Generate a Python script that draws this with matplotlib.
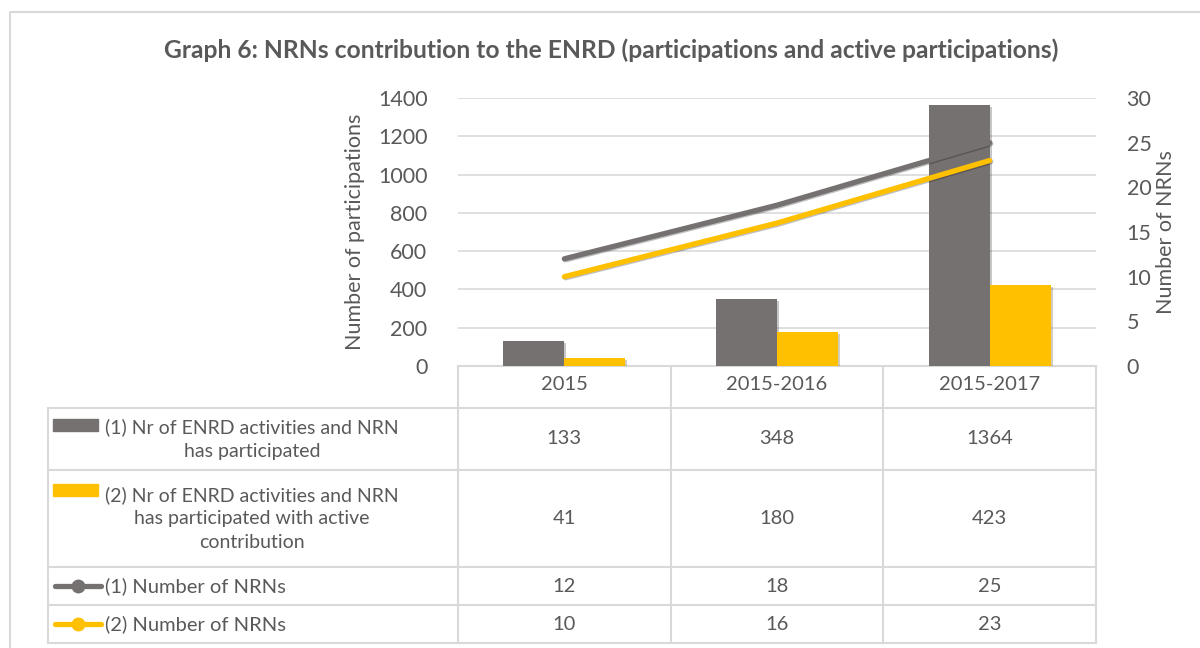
import numpy as np
import matplotlib
matplotlib.use("Agg")
import matplotlib.pyplot as plt
from matplotlib import patheffects as pe
from matplotlib.lines import Line2D
from matplotlib.patches import Rectangle

plt.rcParams["font.family"] = ["Lato", "DejaVu Sans"]

# data
categories = ["2015", "2015-2016", "2015-2017"]
participated = [133, 348, 1364]
active = [41, 180, 423]
nrns_1 = [12, 18, 25]
nrns_2 = [10, 16, 23]

row_labels = [
    "(1) Nr of ENRD activities and NRN\nhas participated",
    "(2) Nr of ENRD activities and NRN\nhas participated with active\ncontribution",
    "(1) Number of NRNs",
    "(2) Number of NRNs",
]
title = "Graph 6: NRNs contribution to the ENRD (participations and active participations)"

GRAY = "#767171"
YELLOW = "#FFC000"
TXT = "#595959"
GRID = "#D9D9D9"

W, H = 1200, 648
fig = plt.figure(figsize=(12, 6.48), dpi=100)

# pixel layout of the plot area
px_left, px_right, px_top, px_bot = 458, 1096, 98, 366
ax = fig.add_axes([px_left / W, 1 - px_bot / H, (px_right - px_left) / W, (px_bot - px_top) / H])
x = np.arange(len(categories))
bw = 0.287
shadow = [pe.SimplePatchShadow(offset=(1.5, -1.5), alpha=0.25), pe.Normal()]
ax.bar(x - bw / 2, participated, bw, color=GRAY, zorder=3, path_effects=shadow)
ax.bar(x + bw / 2, active, bw, color=YELLOW, zorder=3, path_effects=shadow)
ax.set_xlim(-0.5, 2.5)
ax.set_ylim(0, 1400)
ax.set_yticks(range(0, 1401, 200))
ax.yaxis.grid(True, color=GRID, lw=1.2)
ax.set_axisbelow(True)
for s in ["left", "right", "top"]:
    ax.spines[s].set_visible(False)
ax.spines["bottom"].set_color(GRID)
ax.spines["bottom"].set_linewidth(1.5)
ax.set_xticks(x)
ax.set_xticklabels(categories)
ax.tick_params(axis="x", length=0, pad=7, labelsize=14.5, labelcolor=TXT)
ax.tick_params(axis="y", length=0, pad=22, labelsize=15.5, labelcolor=TXT)
ax.set_ylabel("Number of participations", fontsize=15.5, color=TXT, labelpad=9)

ax2 = ax.twinx()
lshadow = [pe.SimpleLineShadow(offset=(0.8, -0.8), alpha=0.25), pe.Normal()]
ax2.plot(x, nrns_1, color=GRAY, lw=3.8, solid_capstyle="round", zorder=4, path_effects=lshadow)
ax2.plot(x, nrns_2, color=YELLOW, lw=3.8, solid_capstyle="round", zorder=4, path_effects=lshadow)
ax2.set_ylim(0, 30)
ax2.set_yticks(range(0, 31, 5))
for s in ax2.spines.values():
    s.set_visible(False)
ax2.tick_params(axis="y", length=0, pad=22, labelsize=15.5, labelcolor=TXT)
ax2.set_ylabel("Number of NRNs", fontsize=15.5, color=TXT, labelpad=3)

fig.suptitle(title, x=611 / W, y=1 - 50 / H, va="center", fontsize=17.7,
             fontweight="bold", color=TXT)

# overlay for data table and frame (pixel coords)
tab = fig.add_axes([0, 0, 1, 1], zorder=-1)
tab.set_xlim(0, W)
tab.set_ylim(H, 0)
tab.axis("off")

tab.plot([10, 10, W + 5], [H + 5, 12, 12], color=GRID, lw=1.5)

col_edges = [px_left + (px_right - px_left) * i / 3 for i in range(4)]
row_edges = [408, 470, 567, 605, 643]
lab_left = 48

for xe in col_edges:
    tab.plot([xe, xe], [px_bot, row_edges[-1]], color=GRID, lw=1.5)
tab.plot([lab_left, lab_left], [row_edges[0], row_edges[-1]], color=GRID, lw=1.5)
for ye in row_edges:
    tab.plot([lab_left, px_right], [ye, ye], color=GRID, lw=1.5)

values = [participated, active, nrns_1, nrns_2]
colors = [GRAY, YELLOW, GRAY, YELLOW]
for r in range(4):
    yc = (row_edges[r] + row_edges[r + 1]) / 2
    for c in range(3):
        xc = (col_edges[c] + col_edges[c + 1]) / 2
        tab.text(xc, yc, str(values[r][c]), ha="center", va="center",
                 fontsize=14.5, color=TXT)
    if r < 2:
        nlines = row_labels[r].count("\n") + 1
        tab.text(252, yc, row_labels[r], ha="center", va="center",
                 multialignment="center", fontsize=14, color=TXT, linespacing=1.45)
        first_y = yc - (nlines - 1) * 14.6 + 1
        tab.add_patch(Rectangle((53, first_y - 6), 45, 12, color=colors[r]))
    else:
        tab.text(105, yc, row_labels[r], ha="left", va="center", fontsize=14.5, color=TXT)
        tab.add_line(Line2D([55, 101], [yc, yc], color=colors[r], lw=3.8,
                            solid_capstyle="round"))
        tab.add_line(Line2D([78], [yc], marker="o", ms=9, color=colors[r]))

fig.savefig("out.png", dpi=100)
